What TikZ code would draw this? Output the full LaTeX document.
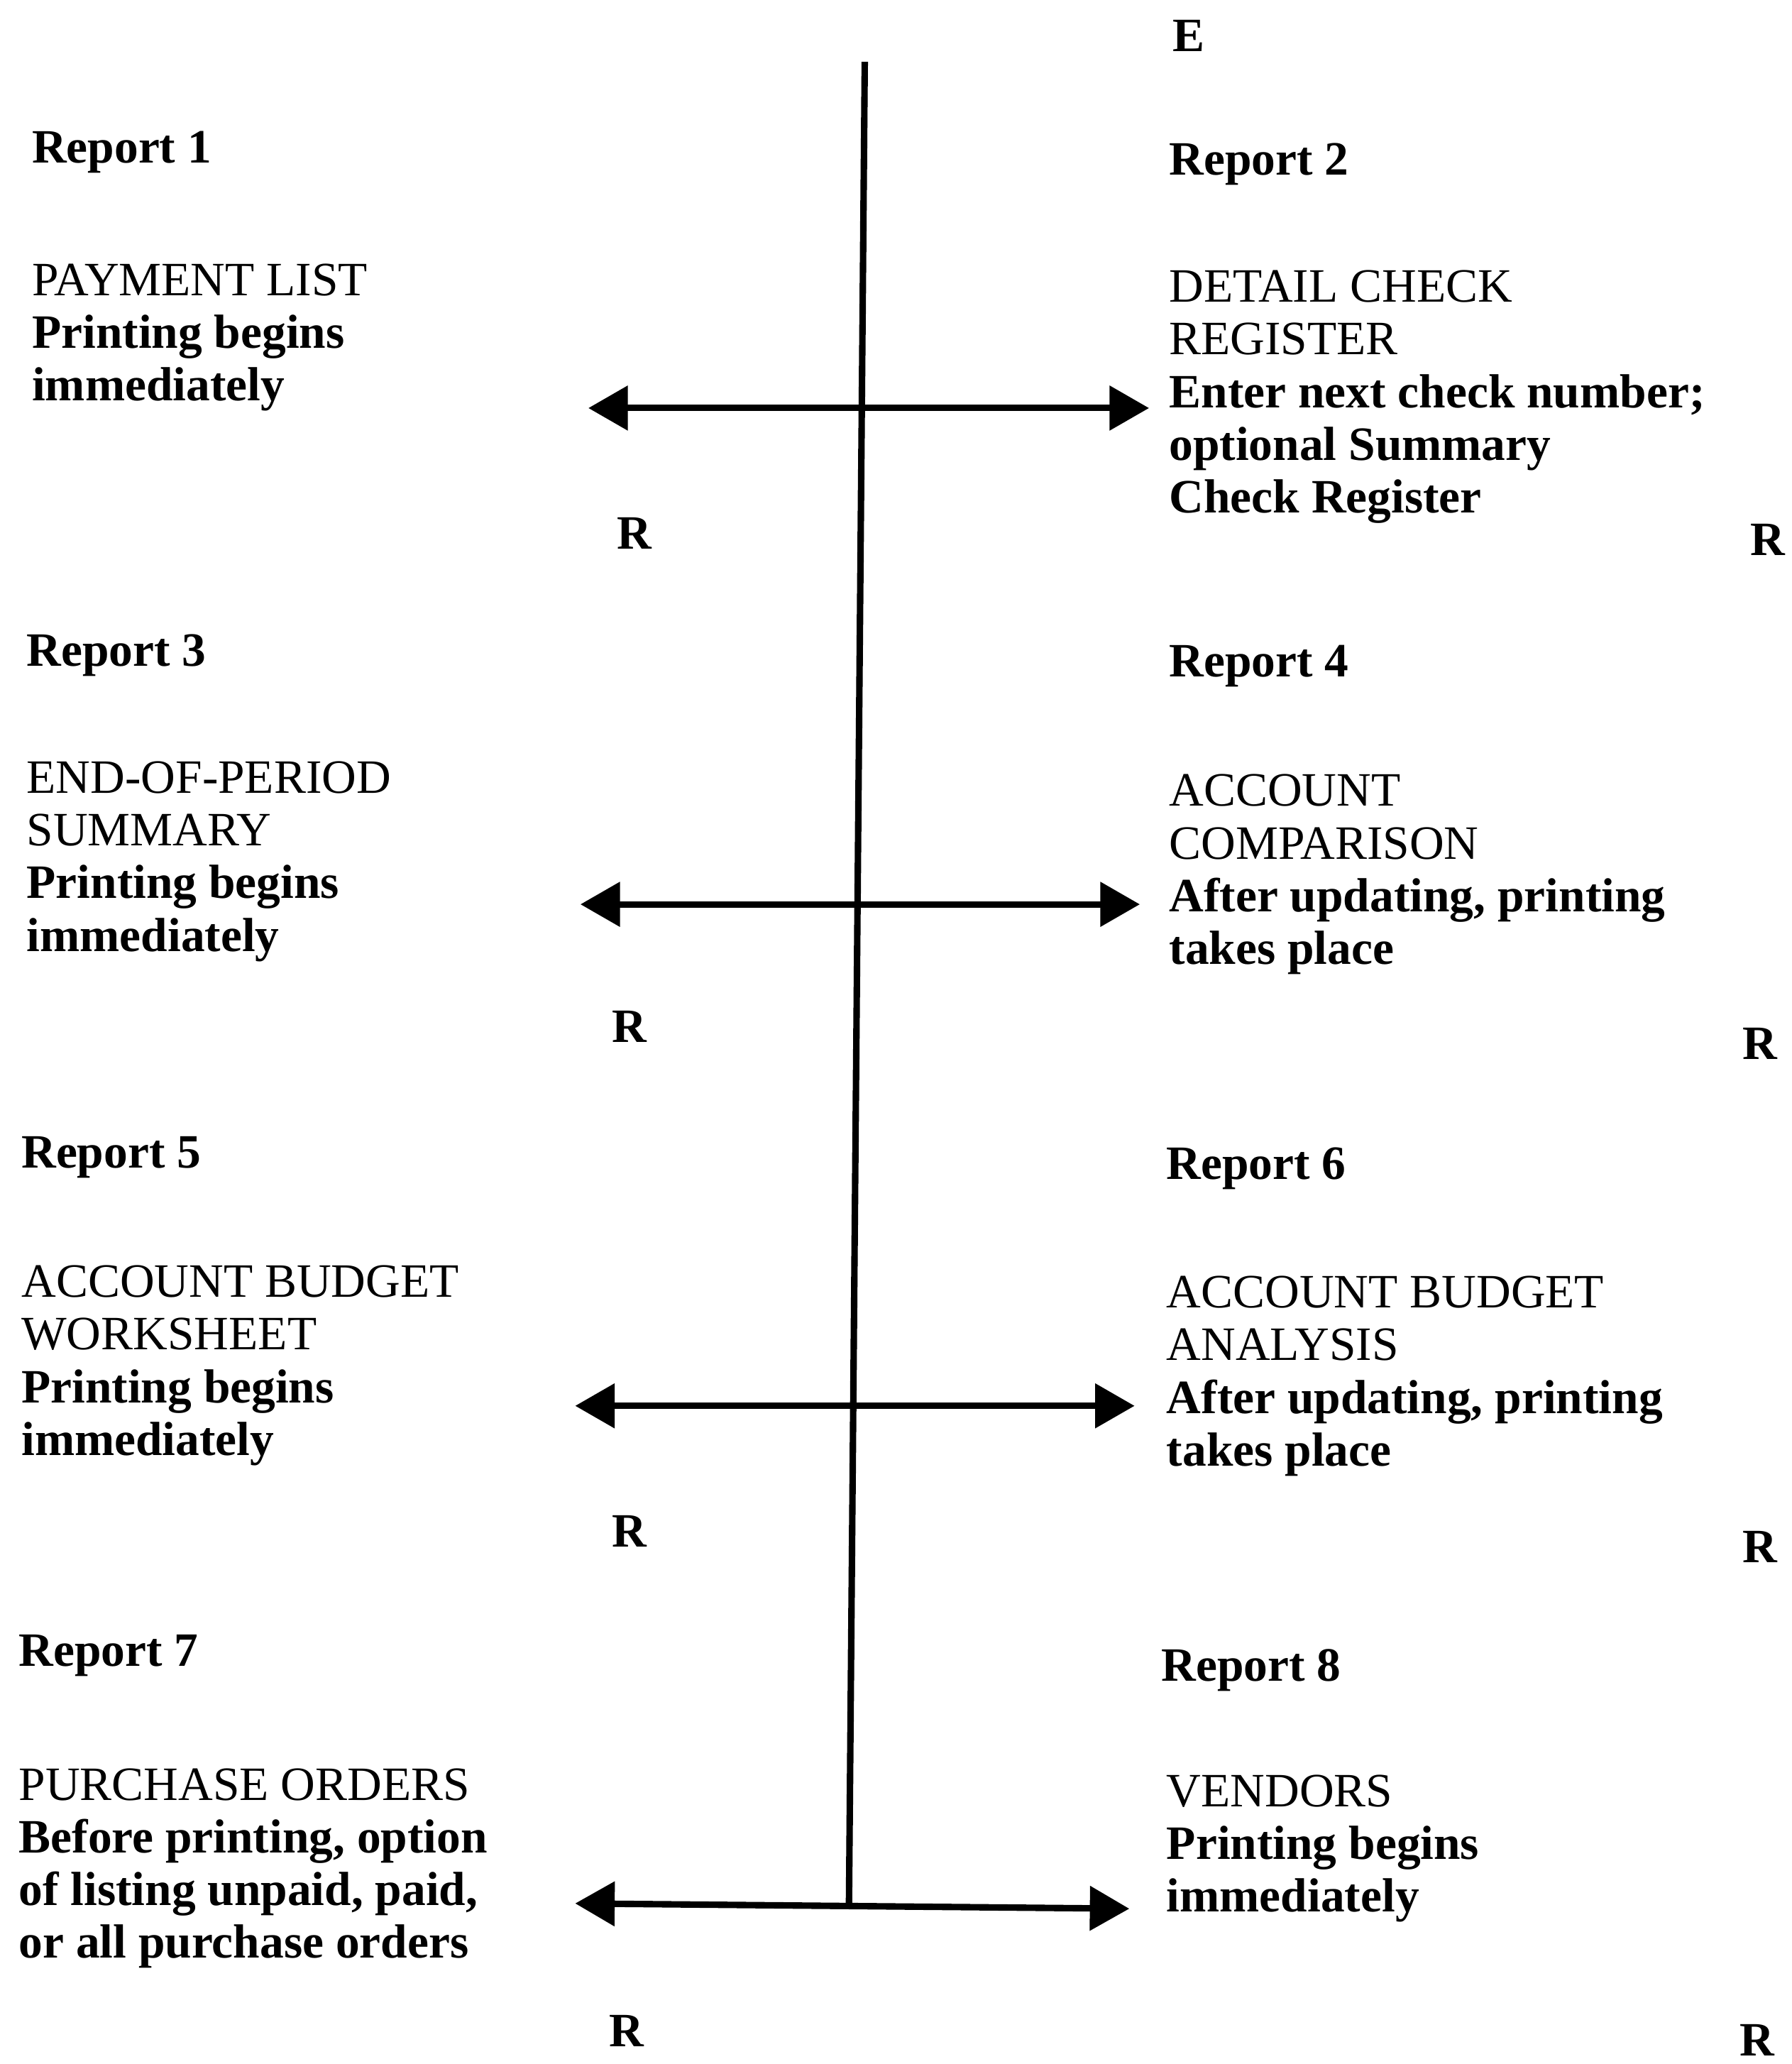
\documentclass[tikz,border=0pt]{standalone}
\usepackage{fontspec}
\setmainfont{Liberation Serif}
\usetikzlibrary{arrows.meta}
\begin{document}
\begin{tikzpicture}[x=0.02cm,y=-0.02cm,
  txt/.style={inner sep=0pt,align=left,font=\fontsize{20.7}{22.8}\selectfont},
  blk/.style={txt,anchor=north west},
  rep/.style={txt,anchor=base west,font=\fontsize{20.7}{22.8}\selectfont\bfseries},
  letter/.style={txt,anchor=center,font=\fontsize{20.7}{22.8}\selectfont\bfseries},
  axis/.style={line width=2.8pt},
  twoway/.style={line width=2.8pt,{Triangle[length=0.6cm,width=0.66cm]}-{Triangle[length=0.6cm,width=0.66cm]}}]
\useasboundingbox (0,0) rectangle (1361,1568);
% E
\node[letter] (E) at (903,27) {E};
% vertical line
\coordinate (top) at (657,47);
\coordinate (bot) at (645,1447);
\draw[axis] (top) -- (bot);
% row 1
\node[rep] (r1) at (24,124) {Report 1};
\node[blk] (b1) at (24,200) {PAYMENT LIST\\\textbf{Printing begins}\\\textbf{immediately}};
\node[rep] (r2) at (888,133) {Report 2};
\node[blk] (b2) at (888,205) {DETAIL CHECK\\REGISTER\\\textbf{Enter next check number;}\\\textbf{optional Summary}\\\textbf{Check Register}};
\coordinate (a1l) at (447,310);
\coordinate (a1r) at (873,310);
\draw[twoway] (a1l) -- (a1r);
\node[letter] (R1) at (482,405) {R};
\node[letter] (R2) at (1343,410) {R};
% row 2
\node[rep] (r3) at (20,506) {Report 3};
\node[blk] (b3) at (20,578) {END-OF-PERIOD\\SUMMARY\\\textbf{Printing begins}\\\textbf{immediately}};
\node[rep] (r4) at (888,514) {Report 4};
\node[blk] (b4) at (888,588) {ACCOUNT\\COMPARISON\\\textbf{After updating, printing}\\\textbf{takes place}};
\coordinate (a2l) at (441,687);
\coordinate (a2r) at (866,687);
\draw[twoway] (a2l) -- (a2r);
\node[letter] (R3) at (478,780) {R};
\node[letter] (R4) at (1337,793) {R};
% row 3
\node[rep] (r5) at (16,887) {Report 5};
\node[blk] (b5) at (16,961) {ACCOUNT BUDGET\\WORKSHEET\\\textbf{Printing begins}\\\textbf{immediately}};
\node[rep] (r6) at (886,896) {Report 6};
\node[blk] (b6) at (886,969) {ACCOUNT BUDGET\\ANALYSIS\\\textbf{After updating, printing}\\\textbf{takes place}};
\coordinate (a3l) at (437,1068);
\coordinate (a3r) at (862,1068);
\draw[twoway] (a3l) -- (a3r);
\node[letter] (R5) at (478,1163) {R};
\node[letter] (R6) at (1337,1175) {R};
% row 4
\node[rep] (r7) at (14,1266) {Report 7};
\node[blk] (b7) at (14,1343) {PURCHASE ORDERS\\\textbf{Before printing, option}\\\textbf{of listing unpaid, paid,}\\\textbf{or all purchase orders}};
\node[rep] (r8) at (882,1277) {Report 8};
\node[blk] (b8) at (886,1348) {VENDORS\\\textbf{Printing begins}\\\textbf{immediately}};
\coordinate (a4l) at (437,1446);
\coordinate (a4r) at (858,1450);
\draw[twoway] (a4l) -- (a4r);
\node[letter] (R7) at (476,1543) {R};
\node[letter] (R8) at (1335,1550) {R};
\end{tikzpicture}
\end{document}
